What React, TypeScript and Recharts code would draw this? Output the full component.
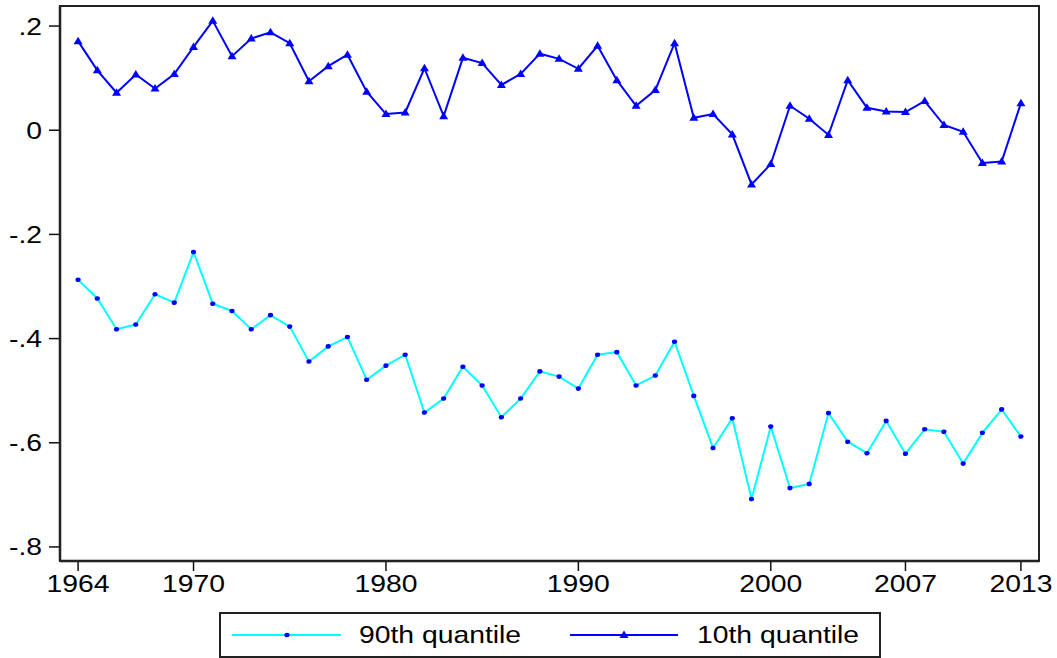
import React from "react";
import { LineChart, Line, XAxis, YAxis, ReferenceLine } from "recharts";

const years = [
  1964, 1965, 1966, 1967, 1968, 1969, 1970, 1971, 1972, 1973,
  1974, 1975, 1976, 1977, 1978, 1979, 1980, 1981, 1982, 1983,
  1984, 1985, 1986, 1987, 1988, 1989, 1990, 1991, 1992, 1993,
  1994, 1995, 1996, 1997, 1998, 1999, 2000, 2001, 2002, 2003,
  2004, 2005, 2006, 2007, 2008, 2009, 2010, 2011, 2012, 2013,
];

const q90 = [
  -0.287, -0.323, -0.382, -0.373, -0.315, -0.331, -0.234, -0.333, -0.347, -0.382,
  -0.355, -0.377, -0.444, -0.415, -0.397, -0.479, -0.452, -0.431, -0.542, -0.515,
  -0.454, -0.49, -0.551, -0.515, -0.463, -0.473, -0.496, -0.431, -0.426, -0.49,
  -0.471, -0.406, -0.51, -0.61, -0.553, -0.708, -0.569, -0.687, -0.679, -0.543,
  -0.598, -0.62, -0.558, -0.621, -0.574, -0.579, -0.64, -0.581, -0.536, -0.588,
];

const q10 = [
  0.171, 0.115, 0.072, 0.107, 0.08, 0.108, 0.16, 0.21, 0.142, 0.176,
  0.188, 0.167, 0.094, 0.123, 0.145, 0.074, 0.031, 0.034, 0.119, 0.027,
  0.139, 0.129, 0.087, 0.108, 0.147, 0.137, 0.118, 0.162, 0.096, 0.047,
  0.077, 0.167, 0.024, 0.031, -0.008, -0.104, -0.065, 0.047, 0.022, -0.009,
  0.096, 0.043, 0.036, 0.035, 0.056, 0.01, -0.003, -0.063, -0.06, 0.052,
];

const xTicks = [1964, 1970, 1980, 1990, 2000, 2007, 2013];
const yTicks = [-0.8, -0.6, -0.4, -0.2, 0, 0.2];

const seriesNames = ["90th quantile", "10th quantile"];

const data = years.map((y, i) => ({ year: y, q90: q90[i], q10: q10[i] }));

const FONT = "'Liberation Sans', Arial, Helvetica, sans-serif";
const SX = 1.18;

const fmtY = (v: number) => {
  if (Math.abs(v) < 1e-9) return "0";
  const s = String(Math.abs(Math.round(v * 10) / 10)).replace(/^0/, "");
  return (v < 0 ? "-" : "") + s;
};

const XTick = (props: any) => {
  const { x, y, payload } = props;
  return (
    <g transform={`translate(${x},${y})`}>
      <text x={0} y={17} textAnchor="middle" transform={`scale(${SX},1)`} fontFamily={FONT} fontSize={24} fill="#000">
        {payload.value}
      </text>
    </g>
  );
};

const YTick = (props: any) => {
  const { x, y, payload } = props;
  return (
    <g transform={`translate(${x},${y})`}>
      <text x={0} y={8.5} textAnchor="end" transform={`scale(${SX},1)`} fontFamily={FONT} fontSize={24} fill="#000">
        {fmtY(payload.value)}
      </text>
    </g>
  );
};

const BlueDot = (props: any) => {
  const { cx, cy } = props;
  if (cx == null || cy == null) return null;
  return <ellipse cx={cx} cy={cy} rx={2.6} ry={2.3} fill="#0000FF" />;
};

const Triangle = (props: any) => {
  const { cx, cy } = props;
  if (cx == null || cy == null) return null;
  return (
    <polygon
      points={`${cx},${cy - 4.5} ${cx - 4.5},${cy + 3} ${cx + 4.5},${cy + 3}`}
      fill="#0000FF"
    />
  );
};

const LegendBox = () => (
  <div
    style={{
      position: "absolute",
      left: 219,
      top: 612,
      width: 662,
      height: 46,
      border: "2px solid #222",
      boxSizing: "border-box",
      background: "#fff",
    }}
  >
    <svg width={658} height={42} style={{ display: "block" }}>
      <line x1={11} y1={21} x2={120} y2={21} stroke="#00FFFF" strokeWidth={2} />
      <ellipse cx={66} cy={21} rx={2.6} ry={2.3} fill="#0000FF" />
      <text transform={`translate(138,29) scale(${SX},1)`} fontFamily={FONT} fontSize={24} fill="#000">
        {seriesNames[0]}
      </text>
      <line x1={349} y1={21} x2={457} y2={21} stroke="#0000FF" strokeWidth={2} />
      <polygon points={`403,16.5 398.5,24 407.5,24`} fill="#0000FF" />
      <text transform={`translate(476,29) scale(${SX},1)`} fontFamily={FONT} fontSize={24} fill="#000">
        {seriesNames[1]}
      </text>
    </svg>
  </div>
);

export default function App() {
  const xDomain: [number, number] = [1963.06, 2013.94];
  const yDomain: [number, number] = [-0.827, 0.2385];
  return (
    <div style={{ position: "absolute", left: 0, top: 0, width: 1057, height: 658, background: "#fff" }}>
      <LineChart
        width={1057}
        height={658}
        data={data}
        margin={{ top: 6, right: 18, bottom: 57, left: 0 }}
      >
        <XAxis
          dataKey="year"
          type="number"
          domain={xDomain}
          allowDataOverflow
          ticks={xTicks}
          interval={0}
          height={40}
          tickSize={10}
          tickMargin={4}
          tick={<XTick />}
          axisLine={{ stroke: "#111", strokeWidth: 2.5 }}
          tickLine={{ stroke: "#111", strokeWidth: 1.5 }}
        />
        <YAxis
          type="number"
          domain={yDomain}
          allowDataOverflow
          ticks={yTicks}
          interval={0}
          width={60}
          tickSize={11}
          tickMargin={7}
          tick={<YTick />}
          axisLine={{ stroke: "#111", strokeWidth: 2.5 }}
          tickLine={{ stroke: "#111", strokeWidth: 1.5 }}
        />
        <ReferenceLine y={yDomain[1]} stroke="#222" strokeWidth={2} ifOverflow="visible" />
        <ReferenceLine x={xDomain[1]} stroke="#222" strokeWidth={2} ifOverflow="visible" />
        <Line
          dataKey="q90"
          name={seriesNames[0]}
          stroke="#00FFFF"
          strokeWidth={2}
          dot={<BlueDot />}
          activeDot={false}
          isAnimationActive={false}
        />
        <Line
          dataKey="q10"
          name={seriesNames[1]}
          stroke="#0000FF"
          strokeWidth={2}
          dot={<Triangle />}
          activeDot={false}
          isAnimationActive={false}
        />
      </LineChart>
      <div
        style={{
          position: "absolute",
          left: 59,
          top: 5,
          width: 981,
          height: 557,
          border: "2px solid #222",
          boxSizing: "border-box",
          pointerEvents: "none",
          zIndex: 10,
        }}
      />
      <LegendBox />
    </div>
  );
}
